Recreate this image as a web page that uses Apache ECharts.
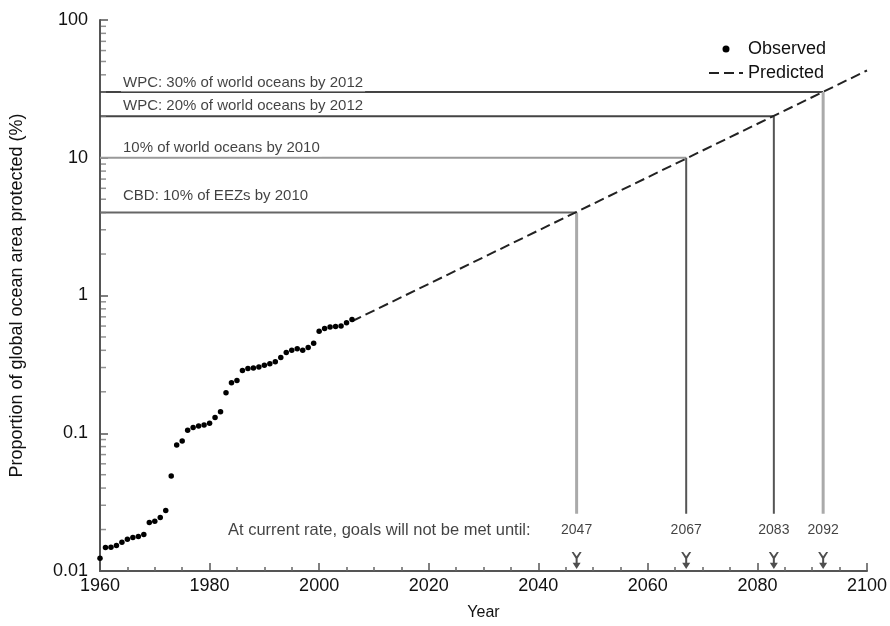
<!DOCTYPE html>
<html>
<head>
<meta charset="utf-8">
<script src="https://cdn.jsdelivr.net/npm/echarts@6/dist/echarts.min.js"></script>
<style>
  html, body { margin: 0; padding: 0; background: #fff; }
  #chart { width: 890px; height: 626px; }
</style>
</head>
<body>
<div id="chart"></div>
<script>
  // observed protected area, % of global ocean, 1960-2006
  const years = [1960, 1961, 1962, 1963, 1964, 1965, 1966, 1967, 1968, 1969,
    1970, 1971, 1972, 1973, 1974, 1975, 1976, 1977, 1978, 1979,
    1980, 1981, 1982, 1983, 1984, 1985, 1986, 1987, 1988, 1989,
    1990, 1991, 1992, 1993, 1994, 1995, 1996, 1997, 1998, 1999,
    2000, 2001, 2002, 2003, 2004, 2005, 2006];
  const observed = [0.0124, 0.0148, 0.0149, 0.0153, 0.0162, 0.0170, 0.0175, 0.0178, 0.0184, 0.0225,
    0.0230, 0.0245, 0.0275, 0.049, 0.082, 0.088, 0.105, 0.110, 0.113, 0.115,
    0.118, 0.130, 0.143, 0.197, 0.233, 0.242, 0.285, 0.295, 0.298, 0.303,
    0.312, 0.320, 0.330, 0.355, 0.385, 0.400, 0.410, 0.400, 0.420, 0.450,
    0.550, 0.575, 0.590, 0.595, 0.600, 0.635, 0.670];

  // extrapolated trend
  const trendYears = [2006, 2100];
  const trendValues = [0.65, 43];

  // targets and the year each one is reached on the trend
  const goalNames = ['CBD: 10% of EEZs by 2010', '10% of world oceans by 2010',
    'WPC: 20% of world oceans by 2012', 'WPC: 30% of world oceans by 2012'];
  const goalValues = [4, 10, 20, 30];
  const goalYears = [2047, 2067, 2083, 2092];

  // log-axis minor tick values
  const yMinorTicks = [0.02, 0.03, 0.04, 0.05, 0.06, 0.07, 0.08, 0.09,
    0.2, 0.3, 0.4, 0.5, 0.6, 0.7, 0.8, 0.9,
    2, 3, 4, 5, 6, 7, 8, 9,
    20, 30, 40, 50, 60, 70, 80, 90];

  // levels used for the bottom row (drop lines end, year text, arrows)
  const dropEnd = 0.026;
  const yearLabelLevel = 0.0198;
  const arrowLevel = 0.0119;
  const noteText = 'At current rate, goals will not be met until:';

  // styles
  const hColors = ['#666', '#999', '#444', '#444'];
  const vColors = ['#aaa', '#555', '#555', '#aaa'];
  const vWidths = [3, 2, 2, 3];
  const labelDy = [-17, -10, -10, -9];
  const font = '"Liberation Sans", Arial, Helvetica, sans-serif';

  const chart = echarts.init(document.getElementById('chart'));

  const series = [];
  goalValues.forEach(function (v, i) {
    series.push({
      type: 'line', silent: true, symbol: 'none', z: 1,
      lineStyle: { color: hColors[i], width: 2 },
      data: [[1960, v], [goalYears[i], v]]
    });
    series.push({
      type: 'line', silent: true, symbol: 'none', z: 1,
      lineStyle: { color: vColors[i], width: vWidths[i] },
      data: [[goalYears[i], v], [goalYears[i], dropEnd]]
    });
    series.push({
      type: 'scatter', silent: true, symbolSize: 0, z: 3,
      data: [[1960, v]],
      label: {
        show: true, position: 'right', offset: [16, labelDy[i]],
        formatter: goalNames[i], color: '#111', fontSize: 15, fontFamily: font,
        backgroundColor: '#fff', padding: [1, 2]
      }
    });
  });

  series.push({
    type: 'scatter', silent: true, symbolSize: 0, z: 3,
    data: goalYears.map(function (y) { return [y, yearLabelLevel]; }),
    label: {
      show: true, position: 'inside', color: '#111', fontSize: 14, fontFamily: font,
      formatter: function (p) { return String(p.value[0]); }
    }
  });
  series.push({
    type: 'scatter', silent: true, symbolSize: 0, z: 3,
    data: [[goalYears[0], yearLabelLevel]],
    label: {
      show: true, position: 'left', distance: 46, color: '#111', fontSize: 16.5, fontFamily: font,
      formatter: noteText
    }
  });
  series.push({
    type: 'scatter', silent: true, z: 4,
    symbol: 'path://M0,0L2,0L5,4L8,0L10,0L6,6L6,10L9,10L5,16L1,10L4,10L4,6Z',
    symbolSize: [10, 17],
    itemStyle: { color: '#222' },
    data: goalYears.map(function (y) { return [y, arrowLevel]; })
  });
  // minor ticks on the log axis, pointing into the plot
  series.push({
    type: 'scatter', silent: true, z: 2, symbol: 'rect',
    symbolSize: [5, 1.5], symbolOffset: [3.5, 0],
    itemStyle: { color: '#777' },
    data: yMinorTicks.map(function (v) { return [1960, v]; })
  });

  series.push({
    name: 'Predicted', type: 'line', symbol: 'none', z: 5,
    itemStyle: { color: '#222', opacity: 0 },
    lineStyle: { color: '#222', width: 2, type: [10, 5] },
    data: trendYears.map(function (y, i) { return [y, trendValues[i]]; })
  });
  series.push({
    name: 'Observed', type: 'scatter', symbolSize: 5.5, z: 6,
    itemStyle: { color: '#000', opacity: 1 },
    data: years.map(function (y, i) { return [y, observed[i]]; })
  });

  const option = {
    animation: false,
    backgroundColor: '#fff',
    textStyle: { fontFamily: font },
    grid: { left: 100, right: 20, top: 20, bottom: 54 },
    legend: {
      orient: 'vertical', left: 703, top: 35, itemWidth: 34, itemHeight: 7, itemGap: 6,
      textStyle: { fontSize: 18, color: '#111', fontFamily: font },
      data: ['Observed', 'Predicted']
    },
    xAxis: {
      type: 'value', min: 1960, max: 2100, interval: 20,
      name: 'Year', nameLocation: 'middle', nameGap: 34,
      nameTextStyle: { fontSize: 16, color: '#111' },
      axisLine: { lineStyle: { color: '#555', width: 2 } },
      axisTick: { inside: true, length: 8, lineStyle: { color: '#555', width: 1.5 } },
      minorTick: { show: true, splitNumber: 4, length: 4, lineStyle: { color: '#666', width: 1.5 } },
      axisLabel: { fontSize: 18, color: '#111', margin: 6, formatter: function (v) { return String(v); } },
      splitLine: { show: false }
    },
    yAxis: {
      type: 'log', logBase: 10, min: 0.01, max: 100,
      name: 'Proportion of global ocean area protected (%)',
      nameLocation: 'middle', nameGap: 74,
      nameTextStyle: { fontSize: 18, color: '#111' },
      axisLine: { show: true, lineStyle: { color: '#555', width: 2 } },
      axisTick: { inside: true, length: 8, lineStyle: { color: '#555', width: 1.5 } },
      minorTick: { show: false },
      axisLabel: {
        fontSize: 18, color: '#111', margin: 12,
        formatter: function (v) { return String(+v.toPrecision(3)); }
      },
      splitLine: { show: false }
    },
    series: series
  };

  chart.setOption(option);
  window.addEventListener('resize', function () { chart.resize(); });
</script>
</body>
</html>
